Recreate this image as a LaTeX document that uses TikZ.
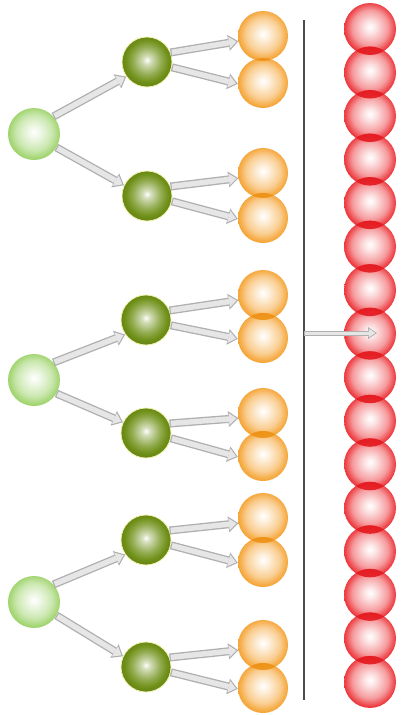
\documentclass[tikz,border=0pt]{standalone}
\usetikzlibrary{arrows.meta}
\definecolor{lgE}{RGB}{160,212,110}
\definecolor{dgE}{RGB}{112,145,25}
\definecolor{orE}{RGB}{245,165,55}
\definecolor{rdE}{RGB}{236,55,60}
\definecolor{rdL}{RGB}{228,25,30}
\definecolor{orL}{RGB}{238,145,20}
\definecolor{arrE}{RGB}{175,175,175}
\definecolor{arrF}{RGB}{230,230,230}
\definecolor{glow}{RGB}{238,242,170}
\pgfdeclareradialshading{lgball}{\pgfpoint{0bp}{2bp}}{color(0bp)=(white); color(6bp)=(lgE!18!white); color(17bp)=(lgE!55!white); color(23bp)=(lgE!90!white); color(25bp)=(lgE); color(50bp)=(lgE)}
\pgfdeclareradialshading{dgball}{\pgfpoint{0bp}{2bp}}{color(0bp)=(white); color(4bp)=(dgE!30!white); color(14bp)=(dgE!75!white); color(21bp)=(dgE); color(25bp)=(dgE!92!black); color(50bp)=(dgE!92!black)}
\pgfdeclareradialshading{orball}{\pgfpoint{0bp}{2bp}}{color(0bp)=(white); color(6bp)=(orE!18!white); color(17bp)=(orE!55!white); color(23bp)=(orE!90!white); color(25bp)=(orE); color(50bp)=(orE)}
\pgfdeclareradialshading{rdball}{\pgfpoint{0bp}{2bp}}{color(0bp)=(white); color(6bp)=(rdE!15!white); color(17bp)=(rdE!50!white); color(23bp)=(rdE!88!white); color(25bp)=(rdE); color(50bp)=(rdE)}
\tikzset{
  lgsph/.style={circle, inner sep=0pt, minimum size=52pt, shading=lgball},
  dgsph/.style={circle, inner sep=0pt, minimum size=50pt, shading=dgball, draw=glow, line width=0.8pt},
  orsph/.style={circle, inner sep=0pt, minimum size=50pt, shading=orball},
  rdsph/.style={circle, inner sep=0pt, minimum size=52pt, shading=rdball},
  rdlens/.style={fill=rdL, fill opacity=0.9},
  orlens/.style={fill=orL, fill opacity=0.9},
  fatarr/.style={draw=arrE, line width=8pt, -{Triangle[length=10pt,width=16pt,line width=0pt]},
    postaction={draw=arrF, line width=5.4pt, -{Triangle[length=7.6pt,width=12pt,line width=0pt]}, shorten >=1.8pt, shorten <=1.2pt}},
  thinarr/.style={draw=arrE, line width=5pt, -{Triangle[length=9pt,width=12pt,line width=0pt]},
    postaction={draw=arrF, line width=3pt, -{Triangle[length=6.6pt,width=8.6pt,line width=0pt]}, shorten >=1.5pt, shorten <=0.5pt}},
  vline/.style={draw=black!70, line width=1.4pt}
}
\begin{document}
\begin{tikzpicture}[x=1pt,y=-1pt]
\useasboundingbox (0,0) rectangle (403,715);
\fill[white] (0,0) rectangle (403,715);
% vertical line
\coordinate (vt) at (304,20);
\coordinate (vb) at (304,700);
\draw[vline] (vt) -- (vb);
% red chain
\foreach \k in {0,...,15}{
  \node[rdsph] (r\k) at (370,{29+\k*43.53}) {};
}
\foreach \k [evaluate=\k as \n using int(\k+1)] in {0,...,14}{
  \begin{scope}
    \clip (r\k.center) circle (26);
    \fill[rdlens] (r\n.center) circle (26);
  \end{scope}
}
\coordinate (ls) at (304,333);
\coordinate (rt) at (377,333);
\draw[thinarr] (ls) -- (rt);
% light green
\node[lgsph] (lg1) at (34,134) {};
\node[lgsph] (lg2) at (34,380) {};
\node[lgsph] (lg3) at (34,602) {};
% dark green and orange pairs
\foreach \i/\x/\y/\a/\b in {1/147/62/36/83, 2/147/196/173/218, 3/146/320/295/338, 4/146/433/413/456, 5/146/540/518/562, 6/146/667/645/688}{
  \node[dgsph] (dg\i) at (\x,\y) {};
  \node[orsph] (ot\i) at (263,\a) {};
  \node[orsph] (ob\i) at (263,\b) {};
  \begin{scope}
    \clip (ot\i.center) circle (25);
    \fill[orlens] (ob\i.center) circle (25);
  \end{scope}
}
\foreach \i in {1,...,6}{
  \draw[fatarr] (dg\i.22) -- (ot\i.192);
  \draw[fatarr] (dg\i.-12) -- (ob\i.182);
}
\foreach \j/\u/\d in {1/1/2, 2/3/4, 3/5/6}{
  \draw[fatarr] (lg\j.42) -- (dg\u.215);
  \draw[fatarr] (lg\j.-31) -- (dg\d.155);
}
\end{tikzpicture}
\end{document}
